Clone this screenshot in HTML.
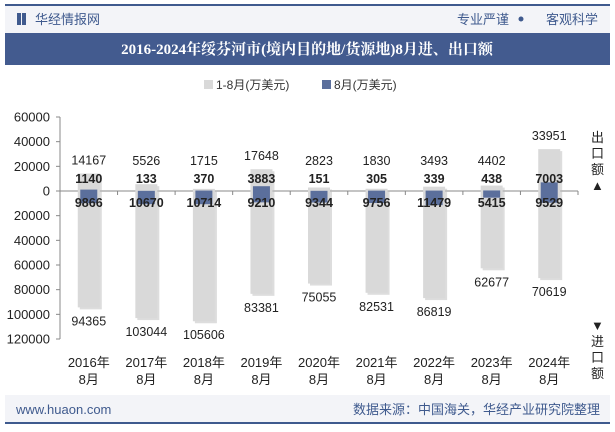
<!DOCTYPE html>
<html><head><meta charset="utf-8"><style>
body{margin:0;width:615px;height:427px;overflow:hidden;background:#fff;font-family:"Liberation Sans","Noto Sans CJK SC",sans-serif}
</style></head><body>
<svg id="c" width="615" height="427" xmlns="http://www.w3.org/2000/svg" font-family="Liberation Sans, Noto Sans CJK SC, sans-serif">
<rect x="5" y="6" width="605" height="27" fill="#f3f4f8"/>
<rect x="5" y="4" width="605" height="2" fill="#3f5a8e"/>
<rect x="17" y="13" width="4" height="12" fill="#3f5a8e"/>
<rect x="22" y="13" width="4" height="12" fill="#3f5a8e"/>
<text x="35" y="24" font-size="13" fill="#3f5a8e">华经情报网</text>
<text x="509" y="24" font-size="13" fill="#3f5a8e" text-anchor="end">专业严谨</text>
<circle cx="521" cy="19" r="2.5" fill="#3f5a8e"/>
<text x="598" y="24" font-size="13" fill="#3f5a8e" text-anchor="end">客观科学</text>
<rect x="5" y="33" width="605" height="32" fill="#435b8f"/>
<text x="307" y="54" font-size="15" font-weight="bold" fill="#fff" text-anchor="middle" font-family="Liberation Serif, Noto Serif CJK SC, serif">2016-2024年绥芬河市(境内目的地/货源地)8月进、出口额</text>
<g>
<rect x="204" y="80" width="9" height="9" fill="#d9d9d9"/>
<text x="216" y="89" font-size="12" fill="#333">1-8月(万美元)</text>
<rect x="322" y="80" width="9" height="9" fill="#5b6f9c"/>
<text x="334" y="89" font-size="12" fill="#333">8月(万美元)</text>
</g>
<g id="axes"></g>
<g id="marks"></g>
<text font-size="13" fill="#222"><tspan x="591" y="142">出</tspan><tspan x="591" y="158">口</tspan><tspan x="591" y="174">额</tspan><tspan x="591" y="190">▲</tspan></text>
<text font-size="13" fill="#222"><tspan x="591" y="330">▼</tspan><tspan x="591" y="346">进</tspan><tspan x="591" y="362">口</tspan><tspan x="591" y="378">额</tspan></text>
<rect x="5" y="395" width="605" height="27" fill="#f3f4f8"/>
<rect x="5" y="422" width="605" height="2" fill="#3f5a8e"/>
<text x="16" y="414" font-size="13" fill="#3f5a8e">www.huaon.com</text>
<text x="600" y="414" font-size="13" fill="#3f5a8e" text-anchor="end">数据来源：中国海关，华经产业研究院整理</text>
</svg>
<script>
const categories=["2016年","2017年","2018年","2019年","2020年","2021年","2022年","2023年","2024年"];
const ytdExport=[14167,5526,1715,17648,2823,1830,3493,4402,33951];
const ytdImport=[94365,103044,105606,83381,75055,82531,86819,62677,70619];
const augExport=[1140,133,370,3883,151,305,339,438,7003];
const augImport=[9866,10670,10714,9210,9344,9756,11479,5415,9529];
const yTicks=[60000,40000,20000,0,20000,40000,60000,80000,100000,120000];
const yTickSigned=[60000,40000,20000,0,-20000,-40000,-60000,-80000,-100000,-120000];
const NS="http://www.w3.org/2000/svg";
const x0=60,x1=578,yTop=117,yBot=339;
const vMax=60000,vMin=-120000;
function Y(v){return yTop+(vMax-v)/(vMax-vMin)*(yBot-yTop);}
const bw=(x1-x0)/categories.length;
function X(i){return x0+bw*(i+0.5);}
function mk(tag,attrs,parent,text){const e=document.createElementNS(NS,tag);for(const k in attrs)e.setAttribute(k,attrs[k]);if(text!==undefined)e.textContent=text;parent.appendChild(e);return e;}
const ax=document.getElementById('axes'),mg=document.getElementById('marks');
const ya=mk('line',{x1:x0,x2:x0,y1:yTop,y2:yBot,stroke:'#888'},ax);


yTicks.forEach((t,i)=>{const y=Y(yTickSigned[i]);
mk('line',{x1:x0-4,x2:x0,y1:y,y2:y,stroke:'#888'},ax);
const tl=mk('text',{x:50,y:y+4.5,'font-size':13,fill:'#222','text-anchor':'end'},ax,String(t));

});
const xa=mk('line',{x1:x0,x2:x1,y1:Y(0),y2:Y(0),stroke:'#888'},ax);


for(let i=0;i<=categories.length;i++)mk('line',{x1:x0+bw*i,x2:x0+bw*i,y1:Y(0),y2:Y(0)+4,stroke:'#888'},ax);
categories.forEach((c,i)=>{const cx=X(i);
mk('rect',{x:cx-11+2,y:Y(ytdExport[i])+2,width:22,height:Y(-ytdImport[i])-Y(ytdExport[i]),fill:'#bbb',opacity:0.5},mg);
const g=mk('rect',{x:cx-11,y:Y(ytdExport[i]),width:22,height:Y(-ytdImport[i])-Y(ytdExport[i]),fill:'#d9d9d9'},mg);


const b=mk('rect',{x:cx-8.5,y:Y(augExport[i]),width:17,height:Y(-augImport[i])-Y(augExport[i]),fill:'#5b6f9c'},mg);


const l1=mk('text',{x:cx,y:Math.min(Y(ytdExport[i])-9,165),'font-size':12.5,fill:'#222','text-anchor':'middle'},mg,String(ytdExport[i]));


const l2=mk('text',{x:cx,y:Y(-ytdImport[i])+18,'font-size':12.5,fill:'#222','text-anchor':'middle'},mg,String(ytdImport[i]));


const l3=mk('text',{x:cx,y:183,'font-size':12.5,'font-weight':'bold',fill:'#222','text-anchor':'middle'},mg,String(augExport[i]));


const l4=mk('text',{x:cx,y:207,'font-size':12.5,'font-weight':'bold',fill:'#222','text-anchor':'middle'},mg,String(augImport[i]));


const xl=mk('text',{x:cx,y:367,'font-size':13,fill:'#222','text-anchor':'middle'},ax,c);


mk('text',{x:cx,y:384,'font-size':13,fill:'#222','text-anchor':'middle'},ax,'8月');
});
</script>
</body></html>
